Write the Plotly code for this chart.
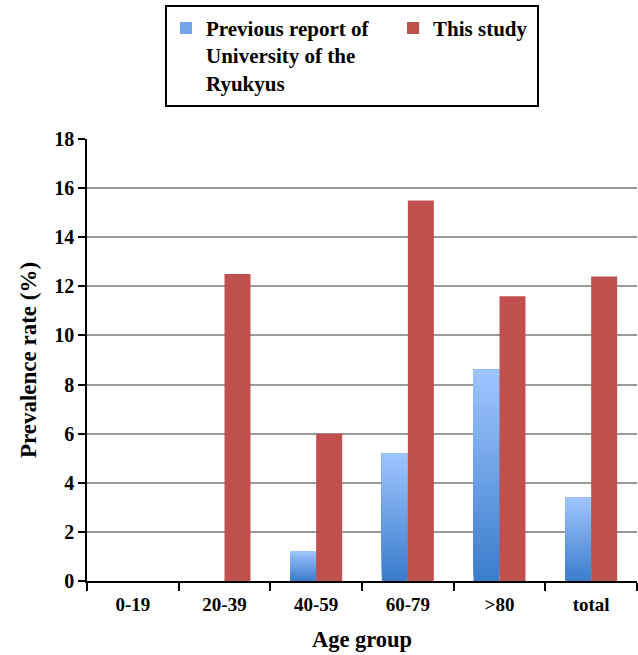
import plotly.graph_objects as go

# Age groups and prevalence rates (%)
age_groups = ["0-19", "20-39", "40-59", "60-79", ">80", "total"]
previous_report = [0, 0, 1.2, 5.2, 8.6, 3.4]
this_study = [0, 12.5, 6.0, 15.5, 11.6, 12.4]
y_ticks = [0, 2, 4, 6, 8, 10, 12, 14, 16, 18]

prev_name = "Previous report of<br>University of the<br>Ryukyus"
study_name = "This study"

FONT = "Liberation Serif"
RED = "#C0504D"
BLUE_TOP = (158, 198, 255)
BLUE_BOTTOM = (58, 124, 204)
N_SLICES = 40


def blend(t):
    r = [round(BLUE_BOTTOM[i] + (BLUE_TOP[i] - BLUE_BOTTOM[i]) * t) for i in range(3)]
    return f"rgb({r[0]},{r[1]},{r[2]})"


fig = go.Figure()

# Legend entry for the gradient-filled series
fig.add_trace(go.Bar(
    x=age_groups, y=[0] * len(age_groups), name=prev_name,
    marker=dict(color=blend(0.55), line=dict(width=0)),
    offsetgroup="prev", showlegend=True, legend="legend", hoverinfo="skip",
))

# Blue bars: each slice runs from its own base up to the bar top, and the
# next (lighter) slice is painted over it, giving a seamless vertical gradient
for k in range(N_SLICES):
    fig.add_trace(go.Bar(
        x=age_groups,
        y=[v * (N_SLICES - k) / N_SLICES for v in previous_report],
        base=[v * k / N_SLICES for v in previous_report],
        marker=dict(color=blend((k + 0.5) / N_SLICES), line=dict(width=0)),
        offsetgroup="prev", showlegend=False, hoverinfo="skip",
    ))

fig.add_trace(go.Bar(
    x=age_groups, y=this_study, name=study_name,
    marker=dict(color=RED, line=dict(width=0)),
    offsetgroup="study", legend="legend2",
))

legend_font = dict(family=FONT, size=21, color="black", weight="bold")

fig.update_layout(
    width=638, height=655,
    margin=dict(l=87, r=1, t=139, b=74),
    paper_bgcolor="white", plot_bgcolor="white",
    barmode="group", bargap=0.433, bargroupgap=0,
    font=dict(family=FONT, color="black", size=18, weight="bold"),
    legend=dict(
        x=0.1436, xanchor="left", y=1.297, yanchor="top",
        borderwidth=0, bgcolor="rgba(0,0,0,0)", font=legend_font, valign="top",
    ),
    legend2=dict(
        x=0.5564, xanchor="left", y=1.297, yanchor="top",
        borderwidth=0, bgcolor="rgba(0,0,0,0)", font=legend_font, valign="top",
    ),
    # Frame around both legend blocks
    shapes=[dict(
        type="rect", xref="paper", yref="paper",
        x0=0.1436, x1=0.8200, y0=1.0747, y1=1.3009,
        line=dict(color="black", width=2), fillcolor="rgba(0,0,0,0)", layer="below",
    )],
    xaxis=dict(
        type="category", showline=True, linecolor="black", linewidth=1.5,
        ticks="outside", tickson="boundaries", ticklen=8, tickcolor="black",
        tickwidth=1.5, showgrid=False, ticklabelstandoff=5,
        tickfont=dict(family=FONT, size=19, weight="bold"),
        title=dict(text="Age group", font=dict(family=FONT, size=22.5, weight="bold"),
                   standoff=18),
    ),
    yaxis=dict(
        range=[0, 18], tickvals=y_ticks, showline=True, linecolor="black",
        linewidth=1.5, ticks="outside", ticklen=7, tickcolor="black", tickwidth=1.5,
        showgrid=True, gridcolor="#999999", gridwidth=1.5, zeroline=False,
        tickfont=dict(family=FONT, size=20, weight="bold"),
        title=dict(text="Prevalence rate (%)",
                   font=dict(family=FONT, size=23, weight="bold"), standoff=11),
    ),
)

fig.write_html("out.html")
